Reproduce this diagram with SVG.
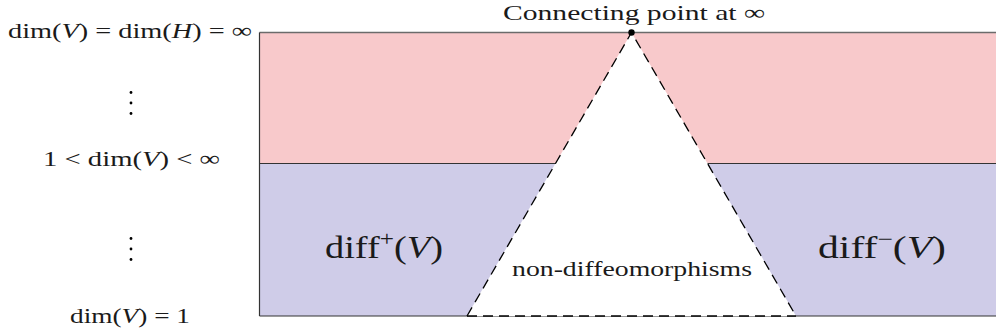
<svg xmlns="http://www.w3.org/2000/svg" width="996" height="335" viewBox="0 0 996 335">
<style>
.t{font-family:"Liberation Serif","DejaVu Serif",serif;fill:#1a1a1a}
.i{font-style:italic}
.dash{fill:none;stroke:#000;stroke-width:1.3;stroke-dasharray:10 6}
</style>
<rect width="996" height="335" fill="#fff"/>
<g id="regions">
<rect id="top-band" x="259.5" y="32.5" width="740" height="131" fill="#f8c9cb"/>
<rect id="bottom-band" x="259.5" y="163.5" width="740" height="152.5" fill="#cfcce8"/>
<line x1="259.5" y1="32.5" x2="1000" y2="32.5" stroke="#6b6b6b" stroke-width="1.5"/>
<line x1="259.5" y1="163.5" x2="1000" y2="163.5" stroke="#333" stroke-width="1.2"/>
<line x1="259.5" y1="316" x2="1000" y2="316" stroke="#333" stroke-width="1.2"/>
<line x1="259.5" y1="32.5" x2="259.5" y2="316" stroke="#333" stroke-width="1.2"/>
</g>
<g id="non-diffeo">
<polygon points="631.5,32.5 467,316 796,316" fill="#fff"/>
<polyline class="dash" points="467,316 631.5,32.5 796,316"/>
<line class="dash" x1="467" y1="316" x2="796" y2="316"/>
<text class="t" x="512" y="276" font-size="22" textLength="240" lengthAdjust="spacingAndGlyphs">non-diffeomorphisms</text>
</g>
<g id="apex">
<circle cx="631.5" cy="32.5" r="3.2" fill="#000"/>
<text class="t" x="503" y="20" font-size="22" textLength="262" lengthAdjust="spacingAndGlyphs">Connecting point at ∞</text>
</g>
<g id="diff-plus">
<text class="t" x="325" y="258" font-size="32" textLength="118" lengthAdjust="spacingAndGlyphs">diff<tspan font-size="21" dy="-12">+</tspan><tspan dy="12">(</tspan><tspan class="i">V</tspan>)</text>
</g>
<g id="diff-minus">
<text class="t" x="818" y="258" font-size="32" textLength="128" lengthAdjust="spacingAndGlyphs">diff<tspan font-size="21" dy="-12">−</tspan><tspan dy="12">(</tspan><tspan class="i">V</tspan>)</text>
</g>
<g id="labels">
<text class="t" x="8" y="38" font-size="22" textLength="244" lengthAdjust="spacingAndGlyphs">dim(<tspan class="i">V</tspan>) = dim(<tspan class="i">H</tspan>) = ∞</text>
<text class="t" x="43" y="166" font-size="22" textLength="177" lengthAdjust="spacingAndGlyphs">1 &lt; dim(<tspan class="i">V</tspan>) &lt; ∞</text>
<text class="t" x="70" y="323" font-size="22" textLength="120" lengthAdjust="spacingAndGlyphs">dim(<tspan class="i">V</tspan>) = 1</text>
<g fill="#000">
<circle cx="131" cy="92.5" r="1.4"/><circle cx="131" cy="103" r="1.4"/><circle cx="131" cy="113.5" r="1.4"/>
<circle cx="131" cy="238.5" r="1.4"/><circle cx="131" cy="249" r="1.4"/><circle cx="131" cy="259.5" r="1.4"/>
</g>
</g>
</svg>
